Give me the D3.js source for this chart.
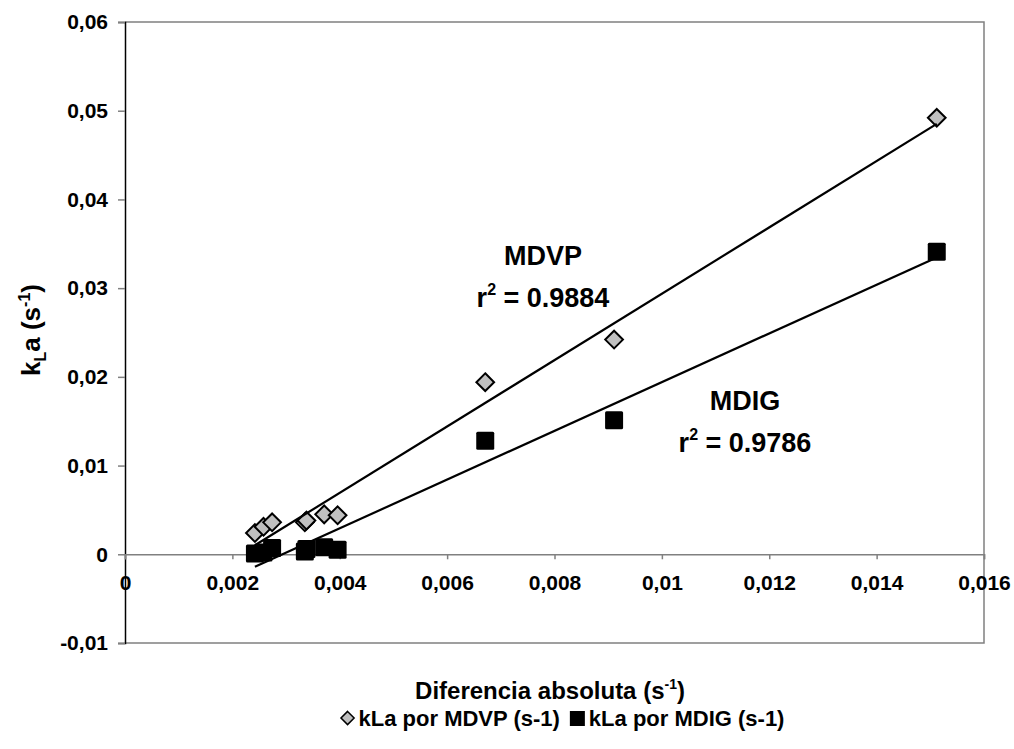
<!DOCTYPE html>
<html>
<head>
<meta charset="utf-8">
<script src="https://cdn.jsdelivr.net/npm/d3@7"></script>
<style>
  html, body { margin: 0; padding: 0; background: #fff; }
  svg { display: block; font-family: "Liberation Sans", Arial, sans-serif; font-weight: bold; }
</style>
</head>
<body>
<svg id="chart" width="1014" height="749"></svg>
<script>
// Absolute difference (s-1) for each run
const diffAbs = [0.00242, 0.00258, 0.00274, 0.00335, 0.00338, 0.00371, 0.00396, 0.00671, 0.00911, 0.01512];
// kLa obtained by the MDVP method (s-1)
const klaMDVP = [0.0024, 0.0031, 0.0036, 0.0036, 0.0038, 0.0045, 0.0044, 0.0194, 0.0242, 0.0492];
// kLa obtained by the MDIG method (s-1)
const klaMDIG = [0.0001, 0.0002, 0.0007, 0.0003, 0.0006, 0.0008, 0.0005, 0.0128, 0.0151, 0.0341];

const xTicks = [0, 0.002, 0.004, 0.006, 0.008, 0.01, 0.012, 0.014, 0.016];
const yTicks = [-0.01, 0, 0.01, 0.02, 0.03, 0.04, 0.05, 0.06];
const seriesNames = ["kLa por MDVP (s-1)", "kLa por MDIG (s-1)"];
const fitLabels = ["MDVP", "MDIG"];
const r2Values = ["0.9884", "0.9786"];

const svg = d3.select("#chart");
const plotL = 125, plotR = 984, plotT = 22, plotB = 643;

const x = d3.scaleLinear().domain([0, 0.016]).range([plotL, plotR]);
const y = d3.scaleLinear().domain([-0.01, 0.06]).range([plotB, plotT]);
const fmt = v => String(+v.toFixed(3)).replace(".", ",");

const gray = "#808080";

// Plot frame: top, right and bottom edges
svg.append("path")
  .attr("d", `M${plotL},${plotT}H${plotR}V${plotB}H${plotL}`)
  .attr("fill", "none").attr("stroke", gray).attr("stroke-width", 1.5);

// Y axis
const yAxis = svg.append("g").attr("transform", `translate(${plotL},0)`)
  .call(d3.axisLeft(y).tickValues(yTicks).tickSize(7).tickPadding(10).tickFormat(fmt));
yAxis.select(".domain").attr("stroke", "#000").attr("stroke-width", 1.5);
yAxis.selectAll(".tick line").attr("stroke", gray).attr("stroke-width", 1.5);
yAxis.selectAll(".tick text").attr("font-size", 21).attr("font-weight", "bold")
  .attr("font-family", "Liberation Sans, Arial, sans-serif").attr("fill", "#000");

// X axis drawn along y = 0
const xAxis = svg.append("g").attr("transform", `translate(0,${y(0)})`)
  .call(d3.axisBottom(x).tickValues(xTicks).tickSize(5).tickPadding(16).tickFormat(fmt));
xAxis.select(".domain").attr("stroke", gray).attr("stroke-width", 1.5);
xAxis.selectAll(".tick line").attr("stroke", gray).attr("stroke-width", 1.5);
xAxis.selectAll(".tick text").attr("font-size", 21).attr("font-weight", "bold")
  .attr("font-family", "Liberation Sans, Arial, sans-serif").attr("fill", "#000");

// Markers
const pts1 = diffAbs.map((d, i) => [d, klaMDVP[i]]);
const pts2 = diffAbs.map((d, i) => [d, klaMDIG[i]]);

svg.append("g").selectAll("rect").data(pts2).join("rect")
  .attr("x", d => x(d[0]) - 9).attr("y", d => y(d[1]) - 9)
  .attr("width", 18).attr("height", 18).attr("rx", 1.5)
  .attr("fill", "#000");

const diamond = d3.symbol().type(d3.symbolDiamond2).size(200);
svg.append("g").selectAll("path").data(pts1).join("path")
  .attr("d", diamond)
  .attr("transform", d => `translate(${x(d[0])},${y(d[1])})`)
  .attr("fill", "#c0c0c0").attr("stroke", "#000").attr("stroke-width", 2);

// Least-squares trend lines over the data range
function fit(xs, ys) {
  const mx = d3.mean(xs), my = d3.mean(ys);
  let sxy = 0, sxx = 0;
  xs.forEach((v, i) => { sxy += (v - mx) * (ys[i] - my); sxx += (v - mx) ** 2; });
  const b = sxy / sxx;
  return { b, a: my - b * mx };
}
const x0 = d3.min(diffAbs), x1 = d3.max(diffAbs);
[klaMDVP, klaMDIG].forEach(ys => {
  const f = fit(diffAbs, ys);
  svg.append("line")
    .attr("x1", x(x0)).attr("y1", y(f.a + f.b * x0))
    .attr("x2", x(x1)).attr("y2", y(f.a + f.b * x1))
    .attr("stroke", "#000").attr("stroke-width", 2.2);
});

// Fit annotations
const annot = [
  { name: fitLabels[0], r2: r2Values[0], cx: 543, y1: 265, y2: 307 },
  { name: fitLabels[1], r2: r2Values[1], cx: 745, y1: 410, y2: 452 }
];
annot.forEach(a => {
  svg.append("text").attr("x", a.cx).attr("y", a.y1).attr("text-anchor", "middle")
    .attr("font-size", 27).text(a.name);
  const t = svg.append("text").attr("x", a.cx).attr("y", a.y2).attr("text-anchor", "middle")
    .attr("font-size", 27);
  t.append("tspan").text("r");
  t.append("tspan").attr("dy", -12).attr("font-size", 16).text("2");
  t.append("tspan").attr("dy", 12).text(" = " + a.r2);
});

// Axis titles
const xt = svg.append("text").attr("x", 550).attr("y", 699).attr("text-anchor", "middle")
  .attr("font-size", 24);
xt.append("tspan").text("Diferencia absoluta (s");
xt.append("tspan").attr("dy", -10).attr("font-size", 14).text("-1");
xt.append("tspan").attr("dy", 10).text(")");

const yt = svg.append("text")
  .attr("transform", "translate(40,330) rotate(-90)")
  .attr("text-anchor", "middle").attr("font-size", 26);
yt.append("tspan").text("k");
yt.append("tspan").attr("dy", 6).attr("font-size", 16).text("L");
yt.append("tspan").attr("dy", -6).text("a (s");
yt.append("tspan").attr("dy", -10).attr("font-size", 16).text("-1");
yt.append("tspan").attr("dy", 10).text(")");

// Legend, centred under the plot
const leg = svg.append("g").attr("transform", "translate(0,726)");
const e1 = leg.append("g");
e1.append("path").attr("d", d3.symbol().type(d3.symbolDiamond2).size(110))
  .attr("transform", "translate(8,-8)")
  .attr("fill", "#c0c0c0").attr("stroke", "#000").attr("stroke-width", 1.5);
const t1 = e1.append("text").attr("x", 19).attr("y", 0).attr("font-size", 22).text(seriesNames[0]);
const w1 = 19 + t1.node().getComputedTextLength();
const e2 = leg.append("g");
e2.append("rect").attr("x", 0).attr("y", -15).attr("width", 15).attr("height", 15).attr("fill", "#000");
const t2 = e2.append("text").attr("x", 19).attr("y", 0).attr("font-size", 22).text(seriesNames[1]);
const total = w1 + 10 + 19 + t2.node().getComputedTextLength();
e1.attr("transform", `translate(${562 - total / 2},0)`);
e2.attr("transform", `translate(${562 - total / 2 + w1 + 10},0)`);
</script>
</body>
</html>
